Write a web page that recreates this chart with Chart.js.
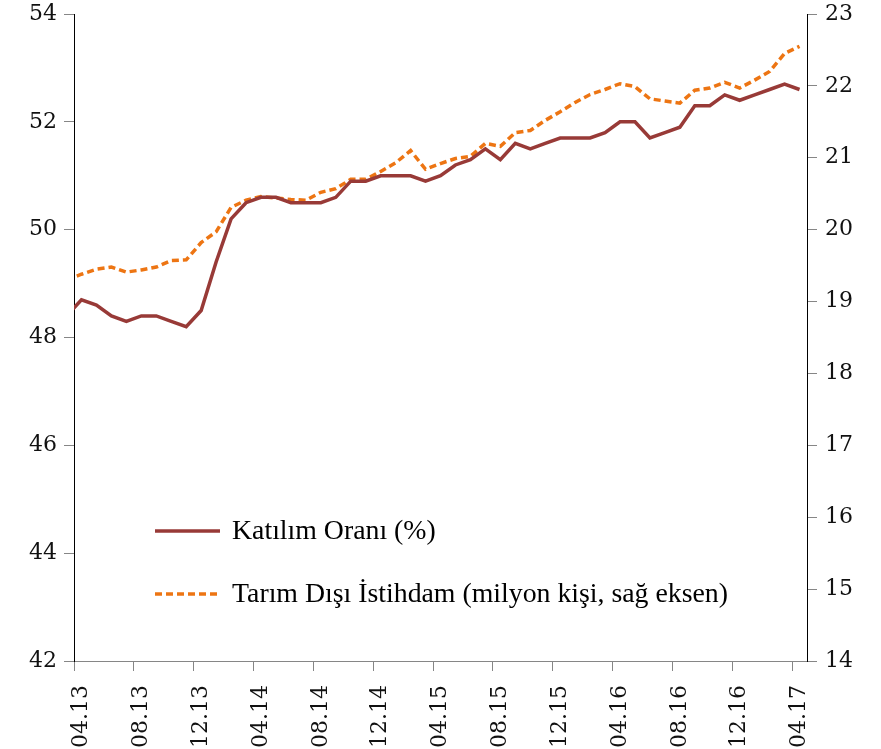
<!DOCTYPE html>
<html>
<head>
<meta charset="utf-8">
<script src="https://cdn.jsdelivr.net/npm/chart.js@4"></script>
<style>
  html, body { margin: 0; padding: 0; background: #fff; }
  #wrap { width: 881px; height: 749px; }
</style>
</head>
<body>
<div id="wrap"><canvas id="chart"></canvas></div>
<script>
// months (first one is only partly visible at the left edge)
const months = [
  "03.13", "04.13", "05.13", "06.13", "07.13", "08.13", "09.13", "10.13", "11.13", "12.13",
  "01.14", "02.14", "03.14", "04.14", "05.14", "06.14", "07.14", "08.14", "09.14", "10.14",
  "11.14", "12.14", "01.15", "02.15", "03.15", "04.15", "05.15", "06.15", "07.15", "08.15",
  "09.15", "10.15", "11.15", "12.15", "01.16", "02.16", "03.16", "04.16", "05.16", "06.16",
  "07.16", "08.16", "09.16", "10.16", "11.16", "12.16", "01.17", "02.17", "03.17", "04.17"
];

// Katılım Oranı (%) - left axis
const katilim = [
  48.4, 48.7, 48.6, 48.4, 48.3, 48.4, 48.4, 48.3, 48.2, 48.5,
  49.4, 50.2, 50.5, 50.6, 50.6, 50.5, 50.5, 50.5, 50.6, 50.9,
  50.9, 51.0, 51.0, 51.0, 50.9, 51.0, 51.2, 51.3, 51.5, 51.3,
  51.6, 51.5, 51.6, 51.7, 51.7, 51.7, 51.8, 52.0, 52.0, 51.7,
  51.8, 51.9, 52.3, 52.3, 52.5, 52.4, 52.5, 52.6, 52.7, 52.6
];

// Tarım Dışı İstihdam (milyon kişi) - right axis
const istihdam = [
  19.30, 19.38, 19.45, 19.48, 19.41, 19.44, 19.48, 19.57, 19.58, 19.82,
  19.97, 20.31, 20.41, 20.46, 20.44, 20.42, 20.41, 20.52, 20.57, 20.70,
  20.70, 20.81, 20.93, 21.10, 20.84, 20.92, 20.99, 21.02, 21.20, 21.16,
  21.35, 21.38, 21.52, 21.64, 21.77, 21.88, 21.95, 22.03, 21.99, 21.82,
  21.79, 21.76, 21.94, 21.97, 22.05, 21.97, 22.08, 22.20, 22.45, 22.55
];

const leftTicks = [42, 44, 46, 48, 50, 52, 54];
const rightTicks = [14, 15, 16, 17, 18, 19, 20, 21, 22, 23];

const tickFont = { family: "DejaVu Serif", size: 22 };
const tickGray = "#868686";

// legend drawn inside the plot area
const innerLegend = {
  id: "innerLegend",
  afterDatasetsDraw(chart) {
    const ctx = chart.ctx;
    const rows = [
      { ds: chart.data.datasets[0], y: 531 },
      { ds: chart.data.datasets[1], y: 594 }
    ];
    ctx.save();
    ctx.font = "27.8px 'Liberation Serif'";
    ctx.textBaseline = "middle";
    ctx.fillStyle = "#000";
    rows.forEach((r) => {
      ctx.beginPath();
      ctx.strokeStyle = r.ds.borderColor;
      ctx.lineWidth = r.ds.borderWidth;
      ctx.setLineDash(r.ds.borderDash || []);
      ctx.moveTo(155, r.y);
      ctx.lineTo(220, r.y);
      ctx.stroke();
      ctx.setLineDash([]);
      ctx.fillText(r.ds.label, 232, r.y + 1);
    });
    ctx.restore();
  }
};

// y axes: fixed width, no extra padding for the end labels
function fixY(scale) {
  scale.width = 74;
  scale.paddingTop = 0;
  scale.paddingBottom = 0;
}

new Chart(document.getElementById("chart"), {
  type: "line",
  data: {
    datasets: [
      {
        label: "Katılım Oranı (%)",
        data: katilim.map((v, i) => ({ x: i, y: v })),
        borderColor: "#983a37",
        borderWidth: 3.5,
        pointRadius: 0,
        tension: 0,
        clip: 0,
        yAxisID: "y"
      },
      {
        label: "Tarım Dışı İstihdam (milyon kişi, sağ eksen)",
        data: istihdam.map((v, i) => ({ x: i, y: v })),
        borderColor: "#ed7513",
        borderWidth: 3.5,
        borderDash: [7, 4],
        pointRadius: 0,
        tension: 0,
        clip: 0,
        yAxisID: "y2"
      }
    ]
  },
  options: {
    responsive: true,
    maintainAspectRatio: false,
    animation: false,
    layout: { padding: { top: 14, left: 0, right: 0, bottom: 0 } },
    plugins: {
      legend: { display: false },
      tooltip: { enabled: false }
    },
    scales: {
      x: {
        type: "linear",
        min: 0.5,
        max: months.length - 0.5,
        afterBuildTicks: (scale) => {
          const t = [];
          for (let i = 1; i < months.length; i += 4) {
            t.push({ value: i - 0.5 });
            t.push({ value: i });
          }
          scale.ticks = t;
        },
        afterFit: (scale) => {
          scale.height = 88;
          scale.paddingLeft = 0;
          scale.paddingRight = 0;
        },
        border: { color: tickGray, width: 1 },
        grid: {
          drawOnChartArea: false,
          tickLength: 10,
          color: (c) => (c.tick && !Number.isInteger(c.tick.value)) ? tickGray : "rgba(0,0,0,0)"
        },
        ticks: {
          autoSkip: false,
          minRotation: 90,
          maxRotation: 90,
          padding: 14,
          color: "#111",
          font: tickFont,
          callback: (v) => Number.isInteger(v) ? months[v] : ""
        }
      },
      y: {
        position: "left",
        min: 42,
        max: 54,
        afterBuildTicks: (scale) => { scale.ticks = leftTicks.map((v) => ({ value: v })); },
        afterFit: fixY,
        border: { color: "#000", width: 1 },
        grid: { drawOnChartArea: false, tickLength: 10, color: tickGray },
        ticks: { padding: 7, color: "#111", font: tickFont }
      },
      y2: {
        position: "right",
        min: 14,
        max: 23,
        afterBuildTicks: (scale) => { scale.ticks = rightTicks.map((v) => ({ value: v })); },
        afterFit: fixY,
        border: { color: "#000", width: 1 },
        grid: { drawOnChartArea: false, tickLength: 10, color: tickGray },
        ticks: { padding: 8, color: "#111", font: tickFont }
      }
    }
  },
  plugins: [innerLegend]
});
</script>
</body>
</html>
